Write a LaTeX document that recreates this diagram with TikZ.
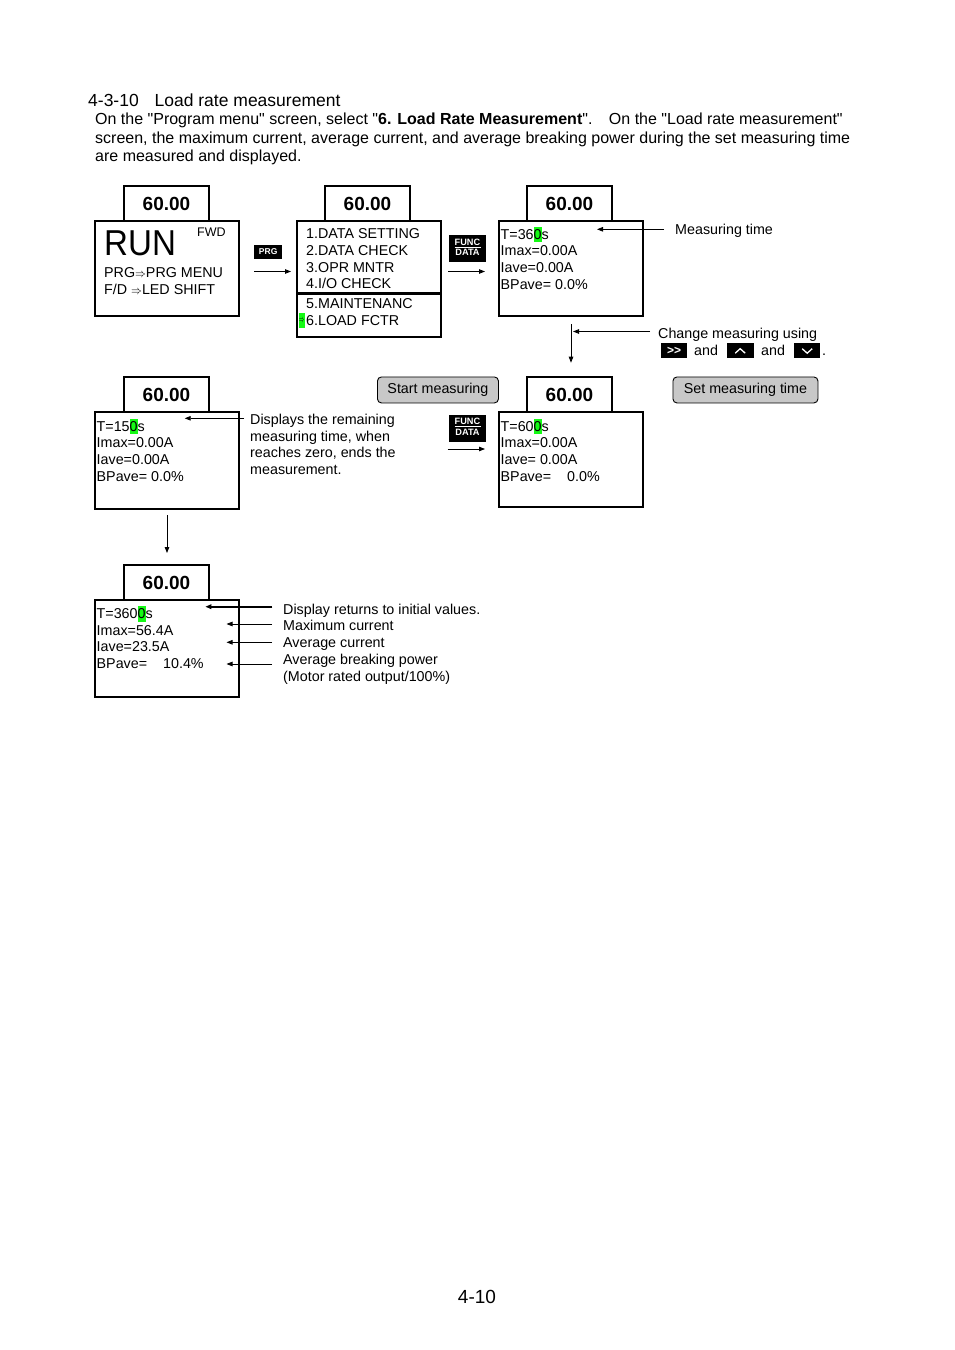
\documentclass[tikz,border=0pt]{standalone}
\usepackage{fontspec}
\newfontfamily\lsans{Liberation Sans}
\usepackage{graphicx}
\usetikzlibrary{arrows.meta}
\definecolor{hlgreen}{RGB}{20,250,20}
\definecolor{btngray}{RGB}{200,200,200}
\newcommand{\fsz}[1]{\lsans\fontsize{#1}{#1}\selectfont}
\newcommand{\hlz}[1]{{\setlength{\fboxsep}{0pt}\colorbox{hlgreen}{\rule[-3.3pt]{0pt}{15.5pt}#1}}}
\newcommand{\rarr}{{\fontsize{11.5}{11.5}\selectfont\scalebox{0.9}[1]{$\Rightarrow$}}}
\begin{document}
\begin{tikzpicture}[x=1pt,y=-1pt,
  frame/.style={draw, line width=1.6pt, anchor=north west, inner sep=0pt, outer sep=0pt},
  disp/.style={frame, minimum width=85pt, minimum height=35pt, font=\fsz{19}\bfseries},
  lcd/.style={anchor=base west, inner sep=0pt, font=\fsz{14.3}},
  note/.style={anchor=base west, inner sep=0pt, font=\fsz{14.3}},
  para/.style={anchor=base west, inner sep=0pt, font=\fsz{16}},
  conn/.style={-{Triangle[length=6pt,width=4.5pt]}, line width=0.8pt},
  key/.style={fill=black, inner sep=0pt, anchor=north west},
  keytxt/.style={text=white, inner sep=0pt, font=\fsz{9.2}\bfseries},
  btn/.style={draw, fill=btngray, rounded corners=4pt, line width=0.9pt, anchor=north west, inner sep=0pt, minimum height=26pt, font=\fsz{14.3}},
]
\fill[white] (0,0) rectangle (954,1350);
\useasboundingbox (0,0) rectangle (954,1350);

% heading
\node[anchor=base west, inner sep=0pt, font=\fsz{17.5}] (title) at (88,106.3) {4-3-10\hspace{11pt} Load rate measurement};
\node[para] (p1) at (95,124.7) {On the "Program menu" screen, select "\textbf{6. Load Rate Measurement}".\hspace{16.5pt}On the "Load rate measurement"};
\node[para] (p2) at (95,143.2) {screen, the maximum current, average current, and average breaking power during the set measuring time};
\node[para] (p3) at (95,161.7) {are measured and displayed.};

% screen 1
\node[frame, minimum width=144pt, minimum height=95pt] (s1) at (95,221) {};
\node[disp] (d1) at (124,186) {60.00};
\node[lcd, font=\fsz{36}] (run) at (104,255) {\scalebox{0.92}[1]{RUN}};
\node[lcd, font=\fsz{12.5}] (fwd) at (197,236.5) {FWD};
\node[lcd] (s1a) at (104,277) {PRG\rarr PRG MENU};
\node[lcd] (s1b) at (104,294) {F/D \rarr LED SHIFT};

% PRG key
\node[key, minimum width=28pt, minimum height=13.5pt] (kprg) at (254,245) {};
\node[keytxt, font=\fsz{8.5}\bfseries] (kprgt) at (kprg.center) {PRG};
\coordinate (a1s) at (254,271.5); \coordinate (a1e) at (291,271.5);
\draw[conn] (a1s) -- (a1e);

% screen 2
\node[frame, minimum width=144pt, minimum height=116pt] (s2) at (297,221) {};
\node[disp] (d2) at (325,186) {60.00};
\coordinate (dv) at (0,293.5);
\draw[line width=2.2pt] (s2.west |- dv) -- (s2.east |- dv);
\foreach \t [count=\i from 0] in {1.DATA SETTING, 2.DATA CHECK, 3.OPR MNTR, 4.I/O CHECK}
  \node[lcd] (s2l\i) at (306,238.5+16.8*\i) {\t};
\node[lcd] (s2l4) at (306,308.4) {5.MAINTENANC};
\node[lcd] (s2l5) at (306,325.1) {6.LOAD FCTR};
\node[fill=hlgreen, inner sep=0pt, minimum width=6pt, minimum height=15.5pt, anchor=north west, font=\fsz{10}] (mk) at (298.5,312.7) {\scalebox{0.55}[1]{$\Rightarrow$}};

% FUNC/DATA key 1
\node[key, minimum width=37pt, minimum height=27pt] (kfd1) at (449,235) {};
\node[keytxt] (kfd1a) at (467.5,242) {FUNC};
\node[keytxt] (kfd1b) at (467.5,252.5) {DATA};
\draw[white, line width=0.7pt] (kfd1a.south west) ++(0,1.6) -- ++(26,0);
\coordinate (a2s) at (448,271.5); \coordinate (a2e) at (485,271.5);
\draw[conn] (a2s) -- (a2e);

% screen 3
\node[frame, minimum width=144pt, minimum height=95pt] (s3) at (499,221) {};
\node[disp] (d3) at (527,186) {60.00};
\foreach \t [count=\i from 0] in {{T=36\hlz{0}s}, Imax=0.00A, Iave=0.00A, {BPave= 0.0\%}}
  \node[lcd] (s3l\i) at (500.5,239+16.7*\i) {\t};
\coordinate (mt0) at (664,229.3); \coordinate (mt1) at (597,229.3);
\draw[conn] (mt0) -- (mt1);
\node[note] (mtt) at (675,234.4) {Measuring time};

% down arrow with note
\coordinate (v1s) at (571,324); \coordinate (v1e) at (571,362.7);
\draw[conn] (v1s) -- (v1e);
\coordinate (c1s) at (650,331.5); \coordinate (c1e) at (573,331.5);
\draw[conn] (c1s) -- (c1e);
\node[note] (cmt) at (658,338.4) {Change measuring using};
\node[key, minimum width=26pt, minimum height=15pt] (kff) at (661,343) {};
\node[keytxt, font=\fsz{12}\bfseries] (kfft) at (kff.center) {>>};
\node[note] (and1) at (694,355.1) {and};
\node[key, minimum width=27pt, minimum height=15pt] (kup) at (726.5,343) {};
\draw[white, line width=1.3pt] ([xshift=-5pt,yshift=-2.5pt]kup.center) -- ([yshift=2pt]kup.center) -- ([xshift=5pt,yshift=-2.5pt]kup.center);
\node[note] (and2) at (761,355.1) {and};
\node[key, minimum width=26pt, minimum height=15pt] (kdn) at (794,343) {};
\draw[white, line width=1.3pt] ([xshift=-5pt,yshift=2pt]kdn.center) -- ([yshift=-2.5pt]kdn.center) -- ([xshift=5pt,yshift=2pt]kdn.center);
\node[note] (dot) at (822,355.1) {.};

% screen 4
\node[frame, minimum width=144pt, minimum height=97pt] (s4) at (95,412) {};
\node[disp] (d4) at (124,377) {60.00};
\foreach \t [count=\i from 0] in {{T=15\hlz{0}s}, Imax=0.00A, Iave=0.00A, {BPave= 0.0\%}}
  \node[lcd] (s4l\i) at (96.5,431+16.7*\i) {\t};
\coordinate (r0) at (244,418.3); \coordinate (r1) at (184.7,418.3);
\draw[conn] (r0) -- (r1);
\foreach \t [count=\i from 0] in {Displays the remaining, {measuring time, when}, {reaches zero, ends the}, measurement.}
  \node[note] (rt\i) at (250,424.3+16.7*\i) {\t};

% buttons
\node[btn, minimum width=121pt] (bstart) at (377,376.5) {Start measuring};
\node[btn, minimum width=145pt] (bset) at (672.5,376.5) {Set measuring time};

% FUNC/DATA key 2
\node[key, minimum width=37pt, minimum height=27pt] (kfd2) at (449,414.5) {};
\node[keytxt] (kfd2a) at (467.5,421.5) {FUNC};
\node[keytxt] (kfd2b) at (467.5,432) {DATA};
\draw[white, line width=0.7pt] (kfd2a.south west) ++(0,1.6) -- ++(26,0);
\coordinate (a3s) at (447.5,449); \coordinate (a3e) at (485,449);
\draw[conn] (a3s) -- (a3e);

% screen 5
\node[frame, minimum width=144pt, minimum height=95pt] (s5) at (499,412) {};
\node[disp] (d5) at (527,377) {60.00};
\foreach \t [count=\i from 0] in {{T=60\hlz{0}s}, Imax=0.00A, {Iave= 0.00A}, {BPave=\hspace{16pt}0.0\%}}
  \node[lcd] (s5l\i) at (500.5,431+16.7*\i) {\t};

% down arrow to screen 6
\coordinate (v2s) at (167,515); \coordinate (v2e) at (167,553);
\draw[conn] (v2s) -- (v2e);

% screen 6
\node[frame, minimum width=144pt, minimum height=97pt] (s6) at (95,600) {};
\node[disp] (d6) at (124,565) {60.00};
\foreach \t [count=\i from 0] in {{T=360\hlz{0}s}, Imax=56.4A, Iave=23.5A, {BPave=\hspace{16pt}10.4\%}}
  \node[lcd] (s6l\i) at (96.5,618.3+16.7*\i) {\t};
\coordinate (b0s) at (272.3,606.7); \coordinate (b0e) at (205.3,606.7);
\draw[conn, line width=1.8pt] (b0s) -- (b0e);
\coordinate (b1s) at (272,624); \coordinate (b1e) at (226.5,624);
\draw[conn] (b1s) -- (b1e);
\coordinate (b2s) at (272,642.3); \coordinate (b2e) at (226.5,642.3);
\draw[conn] (b2s) -- (b2e);
\coordinate (b3s) at (272,664); \coordinate (b3e) at (226.5,664);
\draw[conn] (b3s) -- (b3e);
\foreach \t [count=\i from 0] in {Display returns to initial values., Maximum current, Average current, Average breaking power, (Motor rated output/100\%)}
  \node[note] (bt\i) at (283,614.1+16.75*\i) {\t};

% page number
\node[anchor=base, inner sep=0pt, font=\fsz{19}] (pg) at (477,1303.8) {4-10};
\end{tikzpicture}
\end{document}
